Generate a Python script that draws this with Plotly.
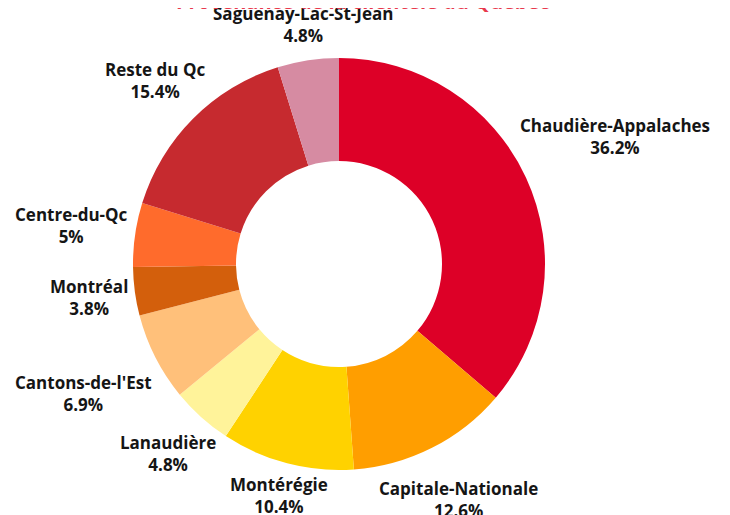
import math
import plotly.graph_objects as go

labels = ["Chaudière-Appalaches", "Capitale-Nationale", "Montérégie", "Lanaudière",
          "Cantons-de-l'Est", "Montréal", "Centre-du-Qc", "Reste du Qc", "Saguenay-Lac-St-Jean"]
values = [36.2, 12.6, 10.4, 4.8, 6.9, 3.8, 5, 15.4, 4.8]
colors = ["#dd0027", "#ff9e00", "#ffd200", "#fff39a", "#ffc07a", "#d35f0c",
          "#ff6b2c", "#c62a2f", "#d68ba2"]
title_text = "Provenance de la clientèle du Québec"

W, H = 730, 515
# pie geometry in figure pixels
CX, CY, R = 331, 256, 206
LABEL_FONT = 17
CHAR_W = 9.3          # approx. glyph advance for the bold label font
HALF_H = 15           # half height of the glyphs of a two-line label
GAP = 7

fig = go.Figure(go.Pie(
    labels=labels, values=values, hole=0.5, sort=False, direction="clockwise",
    rotation=0, marker=dict(colors=colors, line=dict(width=0)),
    textinfo="none", showlegend=False, hoverinfo="label+value",
    domain=dict(x=[(CX - R) / W, (CX + R) / W], y=[1 - (CY + R) / H, 1 - (CY - R) / H]),
))

total = sum(values)
cum = 0.0
for lab, val in zip(labels, values):
    frac = (cum + val / 2) / total
    cum += val
    th = 2 * math.pi * frac
    vx, vy = math.sin(th), -math.cos(th)   # screen direction (y down)
    half_w = len(lab) * CHAR_W / 2
    d = R + GAP + half_w * abs(vx) + HALF_H * abs(vy)
    px, py = CX + d * vx, CY + d * vy
    fig.add_annotation(
        text=f"<b>{lab}</b><br><b>{val:g}%</b>", xref="paper", yref="paper",
        x=px / W, y=1 - py / H, xanchor="center", yanchor="middle", showarrow=False,
        font=dict(family="Open Sans", size=LABEL_FONT, color="#151515"),
    )

fig.add_annotation(text="<b>" + title_text + "</b>", xref="paper", yref="paper",
                   x=355 / W, y=1 + 6 / H, xanchor="center", yanchor="middle",
                   showarrow=False,
                   font=dict(family="Open Sans", size=20, color="#e8384c"))

fig.update_layout(width=W, height=H, margin=dict(l=0, r=0, t=0, b=0),
                  paper_bgcolor="white", plot_bgcolor="white")
fig.write_html("out.html")
